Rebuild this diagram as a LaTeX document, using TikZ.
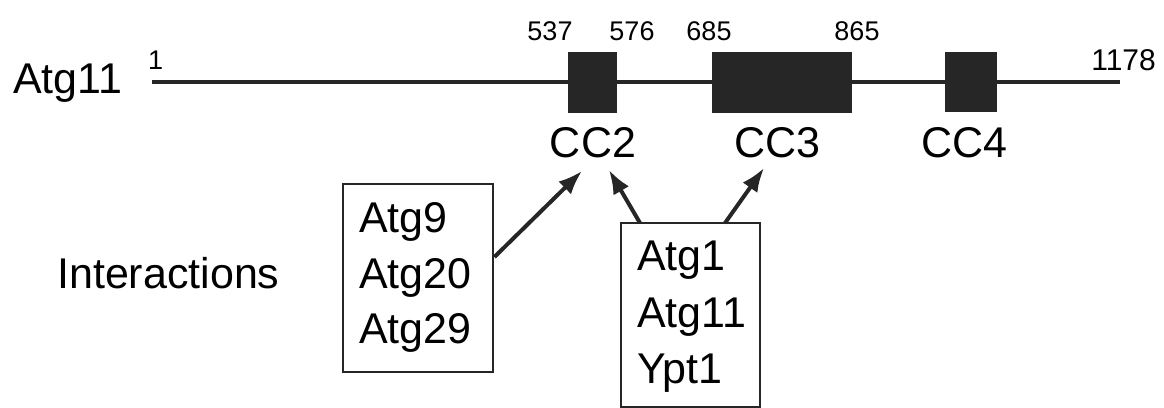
\documentclass[tikz,border=0pt]{standalone}
\usepackage{fontspec}
\setmainfont{Liberation Sans}
\usetikzlibrary{arrows.meta,positioning}
\begin{document}
\begin{tikzpicture}[x=1pt,y=-1pt,
  lbl/.style={inner sep=0pt,anchor=base west,font=\fontsize{43}{50}\selectfont},
  lblc/.style={inner sep=0pt,anchor=base,font=\fontsize{43}{50}\selectfont},
  num/.style={inner sep=0pt,anchor=base,font=\fontsize{27}{30}\selectfont},
  cc/.style={fill=black!85,draw=none},
  frame/.style={draw=black!85,line width=2.8pt,inner sep=0pt},
  arr/.style={draw=black!85,line width=4pt,-{Latex[length=24pt,width=18pt]}}
]
\useasboundingbox (0,0) rectangle (1164,407);
% protein backbone
\coordinate (bstart) at (152,82);
\coordinate (bend) at (1120,82);
\draw[black!85,line width=3.5pt] (bstart) -- (bend);
\node[lbl] (name) at (13,93) {Atg11};
\node[num,anchor=base west] (n1) at (148,69) {1};
\node[num,anchor=base east,font=\fontsize{30}{33}\selectfont] (n1178) at (1156,70) {1178};
% coiled-coil domains
\fill[cc] (568,52) rectangle (617,113);
\fill[cc] (712,52) rectangle (852,113);
\fill[cc] (945,52) rectangle (997,112);
\node[num] (n537) at (550,40) {537};
\node[num] (n576) at (632,40) {576};
\node[num] (n685) at (709,40) {685};
\node[num] (n865) at (857,40) {865};
\node[lblc] (cc2) at (593,157) {CC2};
\node[lblc] (cc3) at (777,157) {CC3};
\node[lblc] (cc4) at (964,157) {CC4};
% interactions
\node[lbl] (inter) at (57,288) {Interactions};
\node[frame,minimum width=150pt,minimum height=188pt] (boxa) at (418,278) {};
\node[lbl] (t9) at (359,232) {Atg9};
\node[lbl] (t20) at (359,288) {Atg20};
\node[lbl] (t29) at (359,343) {Atg29};
\node[frame,minimum width=139pt,minimum height=184pt] (boxb) at (690.5,315) {};
\node[lbl] (t1) at (637,270) {Atg1};
\node[lbl] (t11) at (637,327) {Atg11};
\node[lbl] (ty) at (637,383) {Ypt1};
% arrows
\coordinate (a1s) at (boxa.east |- 0,257);
\coordinate (a1e) at (582,171);
\coordinate (a2s) at (640,223);
\coordinate (a2e) at (609,170);
\coordinate (a3s) at (725,223);
\coordinate (a3e) at (764,168);
\draw[arr] (a1s) -- (a1e);
\draw[arr] (a2s) -- (a2e);
\draw[arr] (a3s) -- (a3e);
\end{tikzpicture}
\end{document}
